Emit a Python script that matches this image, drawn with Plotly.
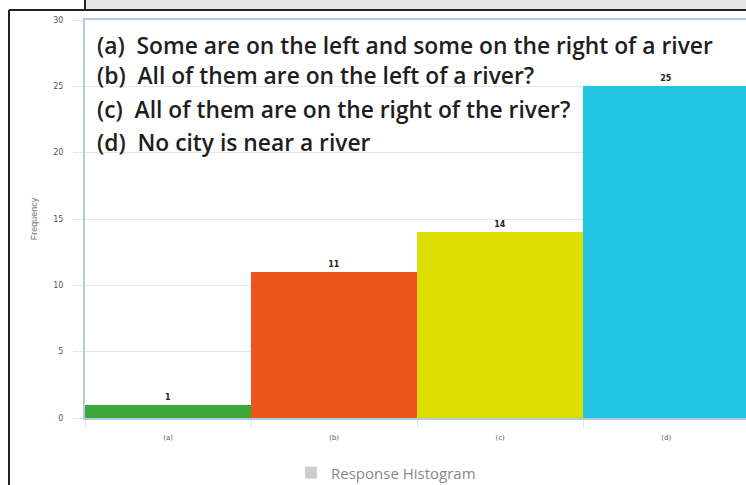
import plotly.graph_objects as go

categories = ["(a)", "(b)", "(c)", "(d)"]
frequencies = [1, 11, 14, 25]
bar_colors = ["#3ca83a", "#ec561d", "#dddd00", "#22c5e2"]
y_ticks = [0, 5, 10, 15, 20, 25, 30]
options_text = [
    "(a)  Some are on the left and some on the right of a river",
    "(b)  All of them are on the left of a river?",
    "(c)  All of them are on the right of the river?",
    "(d)  No city is near a river",
]
legend_name = "Response Histogram"
y_title = "Frequency"

W, H = 746, 485
ML, MT, MR = 85, 20, 0
MB = H - 418
PW, PH = W - ML - MR, H - MT - MB

def px(x):
    return (x - ML) / PW

def py(y):
    return (H - MB - y) / PH

fig = go.Figure()
fig.add_trace(go.Bar(
    x=categories, y=frequencies,
    marker=dict(color=bar_colors, line=dict(width=0)),
    text=[str(v) for v in frequencies], textposition="outside",
    textfont=dict(size=8, color="#222", family="DejaVu Sans", weight="bold"),
    cliponaxis=False, showlegend=False,
))
fig.add_trace(go.Bar(x=[None], y=[None], name=legend_name,
                     marker=dict(color="#cccccc"), showlegend=True))

fig.update_layout(
    width=W, height=H,
    margin=dict(l=ML, r=MR, t=MT, b=MB, autoexpand=False),
    paper_bgcolor="white", plot_bgcolor="white",
    bargap=0, barmode="overlay",
    legend=dict(orientation="h", x=px(386), xanchor="center", y=py(473), yanchor="middle",
                font=dict(size=15, color="#888", family="Open Sans"),
                itemwidth=30),
    xaxis=dict(type="category", range=[-0.5, 3.48], tickson="boundaries",
               ticks="outside", ticklen=8, tickcolor="#e3e3e3",
               showgrid=False, showline=True, linecolor="#b3cbe0", linewidth=2, mirror=True,
               ticklabelstandoff=12,
               tickfont=dict(size=7, color="#555", family="DejaVu Sans")),
    yaxis=dict(range=[0, 30], tickvals=y_ticks, ticks="outside", ticklen=10,
               tickcolor="#e6e6e6", showgrid=True, gridcolor="#e6e6e6", gridwidth=1,
               showline=True, linecolor="#b3cbe0", linewidth=2, mirror=True,
               zeroline=False, ticklabelstandoff=8,
               tickfont=dict(size=8, color="#555", family="DejaVu Sans"),
               title=dict(text=y_title, font=dict(size=9, color="#777", family="Liberation Sans"),
                          standoff=14)),
    font=dict(family="Open Sans"),
)

ys = [45, 75, 110, 142]
for t, yy in zip(options_text, ys):
    fig.add_annotation(xref="paper", yref="paper", x=px(95), y=py(yy),
                       xanchor="left", yanchor="middle", showarrow=False,
                       text=t, font=dict(size=22.8, color="#1e1e1e", family="Open Sans", weight=600))

# outer frame decorations
fig.add_shape(type="rect", xref="paper", yref="paper", x0=px(85), x1=px(760), y0=py(9), y1=py(-5),
              fillcolor="#e6e6e6", line=dict(width=0), layer="above")
fig.add_shape(type="line", xref="paper", yref="paper", x0=px(85), x1=px(85), y0=py(-5), y1=py(10),
              line=dict(color="#222", width=2))
fig.add_shape(type="line", xref="paper", yref="paper", x0=px(9), x1=px(760), y0=py(10), y1=py(10),
              line=dict(color="#222", width=2))
fig.add_shape(type="line", xref="paper", yref="paper", x0=px(9), x1=px(9), y0=py(10), y1=py(500),
              line=dict(color="#222", width=2))

post = (
    "document.documentElement.style.margin='0';"
    "document.documentElement.style.overflow='hidden';"
    "document.body.style.margin='0';"
    "document.body.style.overflow='hidden';"
    "var gd=document.getElementsByClassName('plotly-graph-div')[0];"
    "gd.parentNode.style.height='485px';gd.parentNode.style.overflow='hidden';"
)
fig.write_html("out.html", config={"displayModeBar": False}, post_script=post)
